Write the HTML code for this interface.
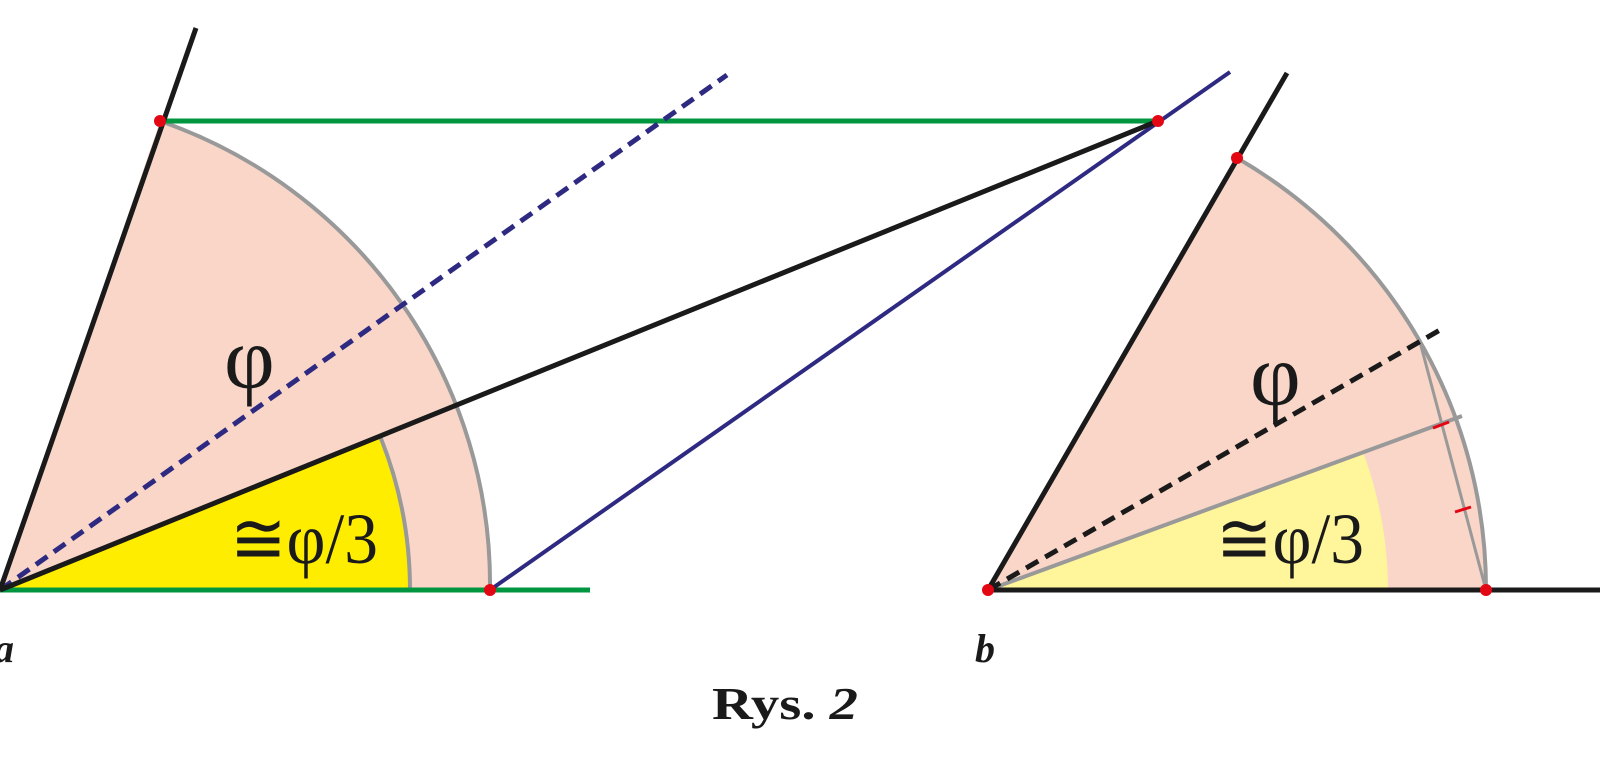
<!DOCTYPE html>
<html><head><meta charset="utf-8"><style>
html,body{margin:0;padding:0;background:#fff;}
svg{display:block;}
</style></head><body>
<svg width="1600" height="768" viewBox="0 0 1600 768" xmlns="http://www.w3.org/2000/svg">
<!-- left figure -->
<path d="M0,590 L490,590 A490,490 0 0 0 160,121 Z" fill="#f9d6c8"/>
<path d="M0,590 L490,590 A490,490 0 0 0 160,121" fill="none" stroke="#999" stroke-width="4"/>
<path d="M0,590 L410,590 A410,410 0 0 0 380,436 Z" fill="#ffed00"/>
<path d="M410,590 A410,410 0 0 0 380,436" fill="none" stroke="#999" stroke-width="4"/>
<line x1="160" y1="121" x2="1158" y2="121" stroke="#009640" stroke-width="5"/>
<line x1="0" y1="590" x2="590" y2="590" stroke="#009640" stroke-width="5"/>
<line x1="0" y1="590" x2="727" y2="75" stroke="#2e2a82" stroke-width="5" stroke-dasharray="14,8"/>
<line x1="490" y1="590" x2="1230" y2="72" stroke="#2e2a82" stroke-width="4"/>
<line x1="0" y1="590" x2="196" y2="28" stroke="#1a1a1a" stroke-width="5"/>
<line x1="0" y1="590" x2="1158" y2="121" stroke="#1a1a1a" stroke-width="5"/>
<circle cx="160" cy="121" r="6" fill="#e30613"/>
<circle cx="1158" cy="121" r="6" fill="#e30613"/>
<circle cx="490" cy="590" r="6" fill="#e30613"/>
<text x="224" y="388" font-family="Liberation Serif, serif" font-size="88" fill="#1a1a1a">φ</text>
<text x="230" y="563" font-family="Liberation Serif, serif" font-size="72" fill="#1a1a1a" textLength="148" lengthAdjust="spacingAndGlyphs">≅φ/3</text>
<text x="-6" y="662" font-family="Liberation Serif, serif" font-size="40" font-weight="bold" font-style="italic" fill="#1a1a1a">a</text>

<!-- right figure -->
<path d="M988,590 L1486,590 A498,498 0 0 0 1237,158 Z" fill="#f9d6c8"/>
<path d="M1486,590 A498,498 0 0 0 1237,158" fill="none" stroke="#999" stroke-width="4"/>
<path d="M988,590 L1388,590 A400,400 0 0 0 1363,452 Z" fill="#fff59a"/>
<line x1="988" y1="590" x2="1462" y2="416" stroke="#999" stroke-width="4"/>
<line x1="1420" y1="342" x2="1486" y2="590" stroke="#999" stroke-width="3"/>
<line x1="988" y1="590" x2="1440" y2="330" stroke="#1a1a1a" stroke-width="5" stroke-dasharray="14,8"/>
<line x1="988" y1="590" x2="1600" y2="590" stroke="#1a1a1a" stroke-width="5"/>
<line x1="988" y1="590" x2="1287" y2="73" stroke="#1a1a1a" stroke-width="5"/>
<line x1="1433" y1="428" x2="1449" y2="422" stroke="#e30613" stroke-width="3"/>
<line x1="1455" y1="512" x2="1471" y2="507" stroke="#e30613" stroke-width="3"/>
<circle cx="1237" cy="158" r="6" fill="#e30613"/>
<circle cx="1486" cy="590" r="6" fill="#e30613"/>
<circle cx="988" cy="590" r="6" fill="#e30613"/>
<text x="1250" y="405" font-family="Liberation Serif, serif" font-size="88" fill="#1a1a1a">φ</text>
<text x="1216" y="563" font-family="Liberation Serif, serif" font-size="72" fill="#1a1a1a" textLength="148" lengthAdjust="spacingAndGlyphs">≅φ/3</text>
<text x="975" y="662" font-family="Liberation Serif, serif" font-size="40" font-weight="bold" font-style="italic" fill="#1a1a1a">b</text>

<text x="712" y="719" font-family="Liberation Serif, serif" font-size="46" font-weight="bold" fill="#1a1a1a" textLength="146" lengthAdjust="spacingAndGlyphs">Rys. <tspan font-style="italic">2</tspan></text>
</svg>
</body></html>
